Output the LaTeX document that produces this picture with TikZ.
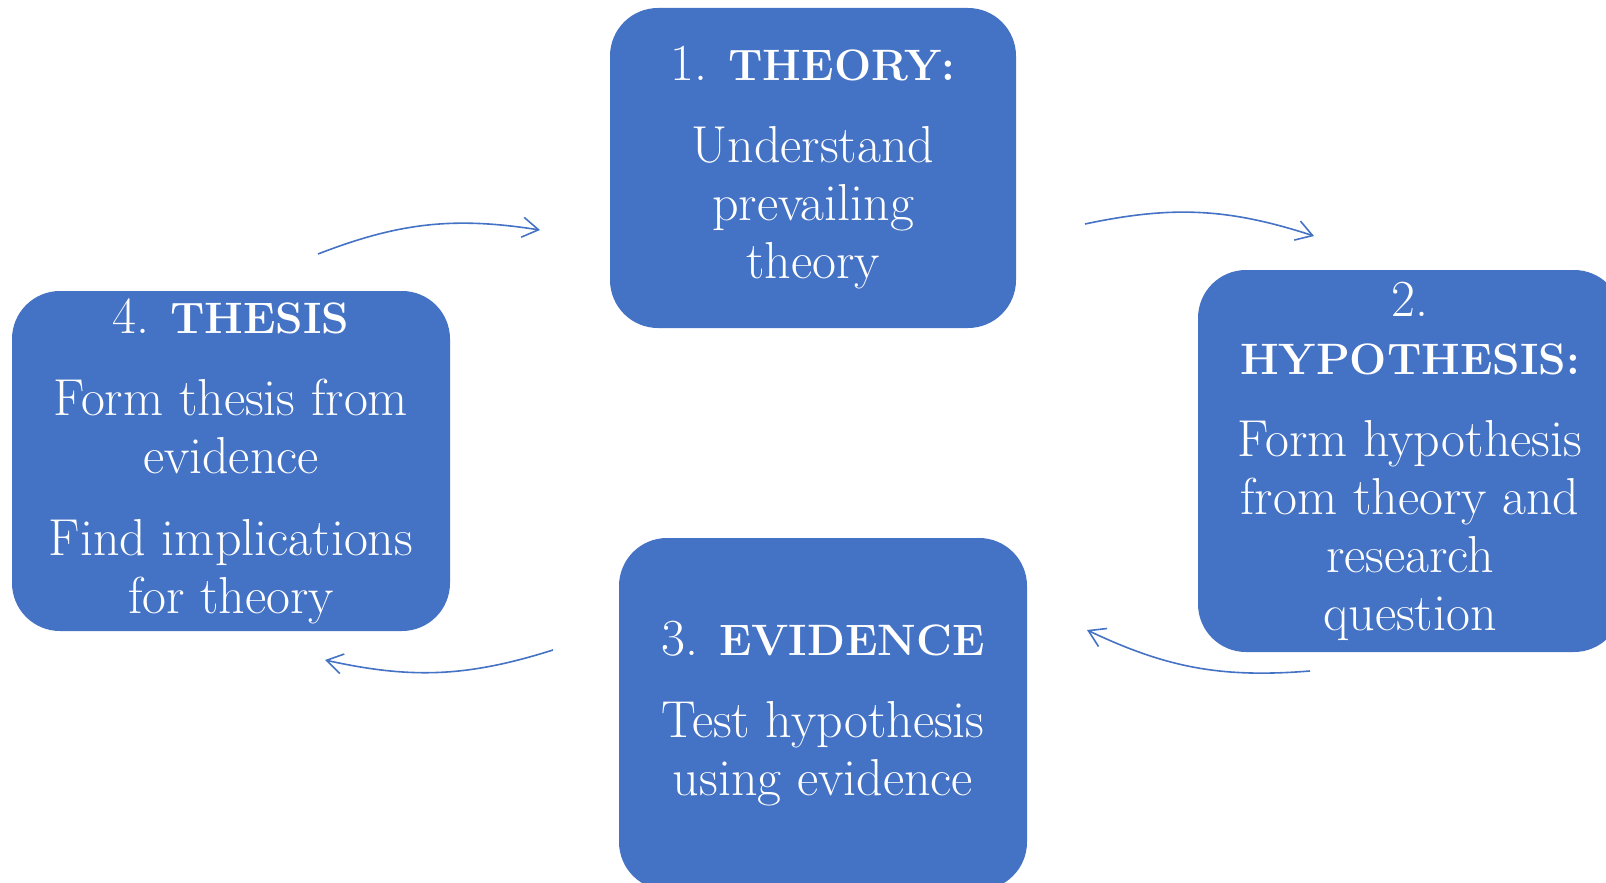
\documentclass[tikz,border=0pt]{standalone}
\usepackage{xcolor}
\usetikzlibrary{arrows.meta, positioning}
\definecolor{stageblue}{HTML}{4472C4}
\newcommand\stagehead[1]{{\fontsize{22}{29}\selectfont\textbf{#1}}}
\tikzset{
  stage/.style={fill=stageblue, rounded corners=24pt, text=white, align=center,
    font=\fontsize{26}{29}\selectfont, inner sep=0pt},
  cycle arrow/.style={stageblue, line width=0.8pt,
    -{Straight Barb[length=8pt,width=10pt]}, bend left=15}
}

\begin{document}
\begin{tikzpicture}[x=0.5pt,y=-0.5pt]
\useasboundingbox (0,0) rectangle (1606,883);
\path coordinate (t) at (813,168)
      coordinate (h) at (1410,461)
      coordinate (e) at (823,714)
      coordinate (s) at (231,461);
\node[stage, minimum width=203pt, minimum height=160pt] (theory) at (t)
  {1. \stagehead{THEORY:}\\[12pt] Understand\\ prevailing\\ theory};
\node[stage, minimum width=212pt, minimum height=191pt] (hypothesis) at (h)
  {2.\\ \stagehead{HYPOTHESIS:}\\[12pt] Form hypothesis\\ from theory and\\ research\\ question};
\node[stage, minimum width=204pt, minimum height=176pt] (evidence) at (e)
  {3. \stagehead{EVIDENCE}\\[12pt] Test hypothesis\\ using evidence};
\node[stage, minimum width=219pt, minimum height=170pt] (thesis) at (s)
  {4. \stagehead{THESIS}\\[12pt] Form thesis from\\ evidence\\[12pt] Find implications\\ for theory};
% arrow ends
\path coordinate (st) at (318,254)   coordinate (ts) at (540,230)
      coordinate (th) at (1085,224)  coordinate (ht) at (1314,236)
      coordinate (he) at (1310,671)  coordinate (eh) at (1087,630)
      coordinate (es) at (553,650)   coordinate (se) at (325,660);
\draw[cycle arrow] (st) to (ts);
\draw[cycle arrow] (th) to (ht);
\draw[cycle arrow] (he) to (eh);
\draw[cycle arrow] (es) to (se);
\end{tikzpicture}
\end{document}
